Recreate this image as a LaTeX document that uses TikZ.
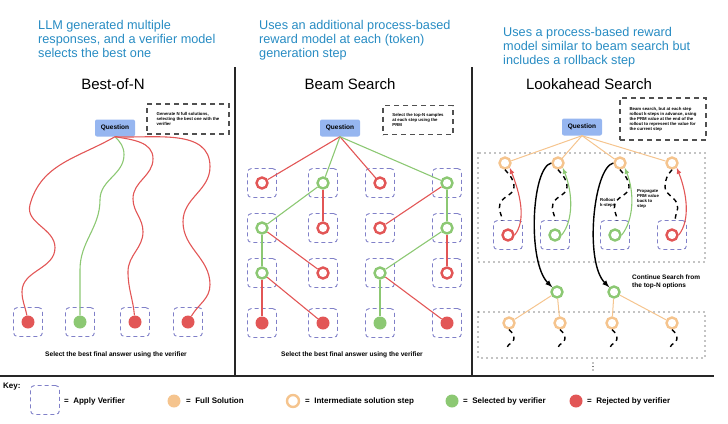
\documentclass[tikz,border=0pt]{standalone}
\usepackage{amsmath}
\usepackage{xcolor}
\usepackage{fontspec}
\setmainfont{Liberation Sans}
\usepackage{tikz}
\usetikzlibrary{shapes.geometric, calc, arrows}

\definecolor{rouge}{RGB}{226,86,86}
\definecolor{vert}{RGB}{140,200,115}
\definecolor{peche}{RGB}{245,196,142}
\definecolor{lavande}{RGB}{128,128,200}
\definecolor{bleutexte}{RGB}{40,140,195}
\definecolor{bleuq}{RGB}{150,182,240}
\definecolor{gris}{RGB}{80,80,80}

\tikzstyle{entete} = [anchor=north west, align=left, inner sep=0pt, text=bleutexte, font=\fontsize{12.7}{14}\selectfont]
\tikzstyle{titre} = [inner sep=0pt, font=\fontsize{15}{15}\selectfont]
\tikzstyle{question} = [rectangle, rounded corners=2pt, fill=bleuq, minimum width=40pt, minimum height=17pt, inner sep=1pt, font=\bfseries\fontsize{6.5}{7}\selectfont]
\tikzstyle{encadre} = [rectangle, draw=gris, dash pattern=on 5pt off 4pt, line width=1.2pt, inner xsep=7pt, align=left, font=\bfseries\fontsize{4.3}{5}\selectfont]
\tikzstyle{verif} = [rectangle, rounded corners=4pt, draw=lavande, dash pattern=on 4pt off 3pt, line width=0.9pt, minimum size=29pt]
\tikzstyle{dansverif} = [label={[verif]center:{}}]
\tikzstyle{anneaurouge} = [circle, draw=rouge, line width=2.4pt, minimum size=11pt, inner sep=0pt]
\tikzstyle{anneauvert} = [circle, draw=vert, line width=2.4pt, minimum size=11pt, inner sep=0pt]
\tikzstyle{anneaupeche} = [circle, draw=peche, line width=2.4pt, minimum size=11pt, inner sep=0pt]
\tikzstyle{pointrouge} = [circle, fill=rouge, minimum size=13pt, inner sep=0pt]
\tikzstyle{pointvert} = [circle, fill=vert, minimum size=13pt, inner sep=0pt]
\tikzstyle{pointpeche} = [circle, fill=peche, minimum size=13pt, inner sep=0pt]
\tikzstyle{lienrouge} = [draw=rouge, line width=1.1pt]
\tikzstyle{lienvert} = [draw=vert, line width=1.1pt]
\tikzstyle{lienpeche} = [draw=peche, line width=1pt]
\tikzstyle{rollout} = [draw=black, line width=1.4pt, dash pattern=on 4.5pt off 4pt]
\tikzstyle{pointille} = [draw=black, line width=1.4pt, dash pattern=on 0pt off 5pt, line cap=round]
\tikzstyle{cadre} = [draw=black!85, line width=1.2pt]
\tikzstyle{legende} = [inner sep=0pt, font=\bfseries\fontsize{6.6}{7}\selectfont]
\tikzstyle{petit} = [anchor=west, align=left, inner sep=0pt, font=\bfseries\fontsize{4.3}{5}\selectfont]
\tikzstyle{cle} = [anchor=west, inner sep=0pt, font=\bfseries\fontsize{8}{9}\selectfont]

\begin{document}
\begin{tikzpicture}[x=1pt, y=1pt]
    \useasboundingbox (0,0) rectangle (728,-423);

    %% séparations
    \draw[cadre] (235,-67) -- (235,-376);
    \draw[cadre] (472,-67) -- (472,-376);
    \draw[cadre] (0,-376) -- (714,-376);

    %% en-têtes
    \node (entete1) [entete] at (38,-20) {LLM generated multiple\\responses, and a verifier model\\selects the best one};
    \node (entete2) [entete] at (259,-20) {Uses an additional process-based\\reward model at each (token)\\generation step};
    \node (entete3) [entete] at (503,-27) {Uses a process-based reward\\model similar to beam search but\\includes a rollback step};

    %% Best-of-N
    \node (titre1) [titre] at (113,-84) {Best-of-N};
    \node (note1) [encadre, minimum width=82pt, minimum height=30pt] at (188,-119) {Generate N full solutions,\\selecting the best one with the\\verifier};
    \node (q1) [question] at (115,-128) {Question};
    \node (l1) [pointrouge, dansverif] at (28,-322) {};
    \node (l2) [pointvert, dansverif] at (80,-322) {};
    \node (l3) [pointrouge, dansverif] at (135,-322) {};
    \node (l4) [pointrouge, dansverif] at (188,-322) {};
    \draw[lienrouge] (q1.south) to[out=210,in=75] ++(-85,-68) to[out=-105,in=90] ++(25,-43) to[out=-90,in=90] ++(-33,-44) to[out=-90,in=100] (l1);
    \draw[lienvert] (q1.south) to[out=-45,in=90] ++(9,-18) to[out=-90,in=90] ++(-24,-45) to[out=-90,in=90] ++(-20,-70) -- (l2);
    \draw[lienrouge] (q1.south) to[out=-10,in=90] ++(38,-22) to[out=-90,in=90] ++(-20,-40) to[out=-90,in=90] ++(10,-33) to[out=-90,in=90] ++(-15,-40) to[out=-90,in=95] (l3);
    \draw[lienrouge] (q1.south) to[out=-3,in=90] ++(95,-30) to[out=-90,in=90] ++(-27,-55) to[out=-90,in=90] ++(27,-63) to[out=-90,in=60] (l4);
    \node (legende1) [legende] at (116,-355) {Select the best final answer using the verifier};

    %% Beam Search
    \node (titre2) [titre] at (350,-84) {Beam Search};
    \node (note2) [encadre, minimum width=70pt, minimum height=29pt] at (418,-120) {Select the top-N samples\\at each step using the\\PRM};
    \node (q2) [question] at (340,-128) {Question};
    \node (b11) [anneaurouge, dansverif] at (262,-183) {};
    \node (b12) [anneauvert, dansverif] at (323,-183) {};
    \node (b13) [anneaurouge, dansverif] at (380,-183) {};
    \node (b14) [anneauvert, dansverif] at (447,-183) {};
    \node (b21) [anneauvert, dansverif] at (262,-228) {};
    \node (b22) [anneaurouge, dansverif] at (323,-228) {};
    \node (b23) [anneaurouge, dansverif] at (380,-228) {};
    \node (b24) [anneauvert, dansverif] at (447,-228) {};
    \node (b31) [anneauvert, dansverif] at (262,-273) {};
    \node (b32) [anneaurouge, dansverif] at (323,-273) {};
    \node (b33) [anneauvert, dansverif] at (380,-273) {};
    \node (b34) [anneaurouge, dansverif] at (447,-273) {};
    \node (b41) [pointrouge, dansverif] at (262,-323) {};
    \node (b42) [pointrouge, dansverif] at (323,-323) {};
    \node (b43) [pointvert, dansverif] at (380,-323) {};
    \node (b44) [pointrouge, dansverif] at (447,-323) {};
    \draw[lienrouge] (q2.south) -- (b11);
    \draw[lienvert] (q2.south) -- (b12);
    \draw[lienrouge] (q2.south) -- (b13);
    \draw[lienvert] (q2.south) -- (b14);
    \draw[lienvert] (b12) -- (b21);
    \draw[lienrouge] (b12) -- (b22);
    \draw[lienrouge] (b14) -- (b23);
    \draw[lienvert] (b14) -- (b24);
    \draw[lienvert] (b21) -- (b31);
    \draw[lienrouge] (b21) -- (b32);
    \draw[lienvert] (b24) -- (b33);
    \draw[lienrouge] (b24) -- (b34);
    \draw[lienrouge] (b31) -- (b41);
    \draw[lienrouge] (b31) -- (b42);
    \draw[lienvert] (b33) -- (b43);
    \draw[lienrouge] (b33) -- (b44);
    \node (legende2) [legende] at (352,-355) {Select the best final answer using the verifier};

    %% Lookahead Search
    \node (titre3) [titre] at (589,-84) {Lookahead Search};
    \node (note3) [encadre, minimum width=86pt, minimum height=42pt] at (663,-119) {Beam search, but at each step\\rollout k-steps in advance, using\\the PRM value at the end of the\\rollout to represent the value for\\the current step};
    \node (q3) [question] at (582,-127) {Question};
    \draw[pointille] (478,-153) rectangle (705,-262);
    \node (t1) [anneaupeche] at (505,-163) {};
    \node (t2) [anneaupeche] at (558,-163) {};
    \node (t3) [anneaupeche] at (620,-163) {};
    \node (t4) [anneaupeche] at (672,-163) {};
    \node (r1) [anneaurouge, dansverif] at (508,-235) {};
    \node (r2) [anneauvert, dansverif] at (555,-235) {};
    \node (r3) [anneauvert, dansverif] at (615,-235) {};
    \node (r4) [anneaurouge, dansverif] at (672,-235) {};
    \draw[lienpeche] (q3.south) -- (t1);
    \draw[lienpeche] (q3.south) -- (t2);
    \draw[lienpeche] (q3.south) -- (t3);
    \draw[lienpeche] (q3.south) -- (t4);

    %% rollout et retour
    \draw[rollout] (t1.south) to[out=-50,in=90] ++(9,-17) to[out=-90,in=70] ++(-14,-17) to[out=-110,in=90] ++(2,-17);
    \draw[rollout] (t2.south) to[out=-50,in=90] ++(9,-17) to[out=-90,in=70] ++(-14,-17) to[out=-110,in=90] ++(2,-17);
    \draw[rollout] (t3.south) to[out=-50,in=90] ++(9,-17) to[out=-90,in=70] ++(-14,-17) to[out=-110,in=90] ++(2,-17);
    \draw[rollout] (t4.south) to[out=-130,in=90] ++(-7,-17) to[out=-90,in=110] ++(12,-17) to[out=-70,in=90] ++(-2,-17);
    \draw[lienrouge, -latex] (r1.east) .. controls +(12,15) and +(10,-25) .. (t1.south east);
    \draw[lienvert, -latex] (r2.east) .. controls +(12,15) and +(10,-25) .. (t2.south east);
    \draw[lienvert, -latex] (r3.east) .. controls +(12,15) and +(10,-25) .. (t3.south east);
    \draw[lienrouge, -latex] (r4.east) .. controls +(12,15) and +(10,-25) .. (t4.south east);
    \node (rollk) [petit] at (600,-203) {Rollout\\k-steps};
    \node (propag) [petit] at (637,-199) {Propagate\\PRM value\\back to\\step};

    %% suite de la recherche
    \node (g1) [anneauvert] at (557,-292) {};
    \node (g2) [anneauvert] at (614,-292) {};
    \draw[draw=black, line width=1.4pt, -latex] (t2.west) .. controls +(-20,-5) and +(-25,25) .. (g1.north west);
    \draw[draw=black, line width=1.4pt, -latex] (t3.west) .. controls +(-20,-5) and +(-25,25) .. (g2.north west);
    \node (continue) [anchor=west, align=left, inner sep=0pt, font=\bfseries\fontsize{6.5}{8.5}\selectfont] at (632,-282) {Continue Search from\\the top-N options};
    \draw[pointille] (478,-312) rectangle (705,-358);
    \node (o1) [anneaupeche] at (509,-323) {};
    \node (o2) [anneaupeche] at (560,-323) {};
    \node (o3) [anneaupeche] at (612,-323) {};
    \node (o4) [anneaupeche] at (672,-323) {};
    \draw[lienpeche] (g1) -- (o1);
    \draw[lienpeche] (g1) -- (o2);
    \draw[lienpeche] (g2) -- (o3);
    \draw[lienpeche] (g2) -- (o4);
    \draw[rollout] (o1.south) to[out=-40,in=90] ++(5,-9) to[out=-90,in=80] ++(-7,-9);
    \draw[rollout] (o2.south) to[out=-40,in=90] ++(5,-9) to[out=-90,in=80] ++(-7,-9);
    \draw[rollout] (o3.south) to[out=-40,in=90] ++(5,-9) to[out=-90,in=80] ++(-7,-9);
    \draw[rollout] (o4.south) to[out=-40,in=90] ++(5,-9) to[out=-90,in=80] ++(-7,-9);
    \coordinate (suite) at (593,-363);
    \draw[pointille, dash pattern=on 0pt off 3.5pt] (suite) -- ++(0,-10);

    %% légende
    \node (key) [cle] at (3,-387) {Key:};
    \node (k1) [verif] at (45,-400) {};
    \node (k1t) [cle] at (64,-401) {=\ \ Apply Verifier};
    \node (k2) [pointpeche] at (174,-401) {};
    \node (k2t) [cle] at (186,-401) {=\ \ Full Solution};
    \node (k3) [anneaupeche, minimum size=12pt] at (293,-401) {};
    \node (k3t) [cle] at (305,-401) {=\ \ Intermediate solution step};
    \node (k4) [pointvert] at (452,-401) {};
    \node (k4t) [cle] at (463,-401) {=\ \ Selected by verifier};
    \node (k5) [pointrouge] at (576,-401) {};
    \node (k5t) [cle] at (587,-401) {=\ \ Rejected by verifier};
\end{tikzpicture}
\end{document}
